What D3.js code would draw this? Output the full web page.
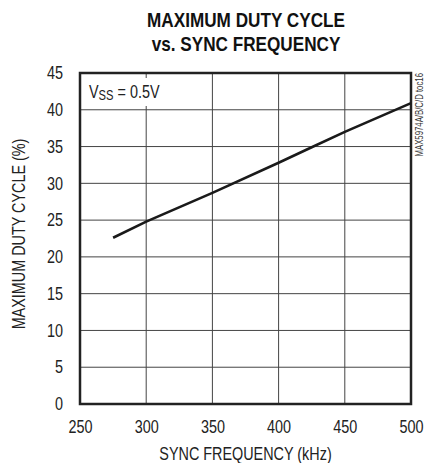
<!DOCTYPE html>
<html><head><meta charset="utf-8">
<script src="https://cdn.jsdelivr.net/npm/d3@7"></script>
<style>body{margin:0;background:#fff}svg{display:block}</style>
</head><body>
<script>
const freq = [275, 300, 350, 400, 425, 450, 500];
const duty = [22.6, 24.8, 28.7, 32.8, 34.9, 37.0, 40.9];
const xTicks = [250, 300, 350, 400, 450, 500];
const yTicks = [0, 5, 10, 15, 20, 25, 30, 35, 40, 45];

const W = 427, H = 463;
const m = {l: 80, r: 16, t: 73, b: 59};
const SX = 0.8; // horizontal condensing for text
const svg = d3.select("body").append("svg").attr("width", W).attr("height", H);
const x = d3.scaleLinear().domain([250, 500]).range([m.l, W - m.r]);
const y = d3.scaleLinear().domain([0, 45]).range([H - m.b, m.t]);
const font = "'Liberation Sans', Arial, sans-serif";

function ctext(px, py, str, size, opts = {}) {
  const t = svg.append("text")
    .attr("transform", `translate(${px},${py}) ${opts.rot ? `rotate(${opts.rot})` : ""} scale(${opts.sx || SX},1)`)
    .attr("text-anchor", opts.anchor || "middle")
    .attr("font-family", font).attr("font-size", size)
    .attr("fill", opts.fill || "#222");
  if (opts.weight) t.attr("font-weight", opts.weight);
  t.text(str);
  return t;
}

// grid
const g = svg.append("g");
g.selectAll(".vx").data(xTicks.slice(1, -1)).join("line")
  .attr("x1", d => x(d)).attr("x2", d => x(d)).attr("y1", y(45)).attr("y2", y(0))
  .attr("stroke", "#444").attr("stroke-width", 1);
g.selectAll(".hy").data(yTicks.slice(1, -1)).join("line")
  .attr("y1", d => y(d)).attr("y2", d => y(d)).attr("x1", x(250)).attr("x2", x(500))
  .attr("stroke", "#444").attr("stroke-width", 1);

// axes (labels only)
const xa = svg.append("g").attr("transform", `translate(0,${y(0)})`)
  .call(d3.axisBottom(x).tickValues(xTicks).tickSize(0).tickPadding(16));
xa.select(".domain").remove();
xa.selectAll("text").attr("font-family", font).attr("font-size", 18).attr("fill", "#222")
  .attr("transform", `scale(${SX},1)`);
const ya = svg.append("g").attr("transform", `translate(${x(250)},0)`)
  .call(d3.axisLeft(y).tickValues(yTicks).tickSize(0).tickPadding(17));
ya.select(".domain").remove();
ya.selectAll("text").attr("font-family", font).attr("font-size", 18).attr("fill", "#222")
  .attr("x", -17 / SX).attr("transform", `scale(${SX},1)`);

// annotation background
svg.append("rect").attr("x", 85).attr("y", 78).attr("width", 80).attr("height", 28).attr("fill", "#fff");

// frame
svg.append("rect").attr("x", x(250)).attr("y", y(45))
  .attr("width", x(500) - x(250)).attr("height", y(0) - y(45))
  .attr("fill", "none").attr("stroke", "#222").attr("stroke-width", 2.5);

// line
svg.append("path").datum(freq.map((f, i) => [f, duty[i]]))
  .attr("d", d3.line().x(d => x(d[0])).y(d => y(d[1])))
  .attr("fill", "none").attr("stroke", "#1a1a1a").attr("stroke-width", 2.6);

// titles
ctext(246, 27, "MAXIMUM DUTY CYCLE", 19.5, {weight: "bold", fill: "#111", sx: 0.88});
ctext(246, 51, "vs. SYNC FREQUENCY", 19.5, {weight: "bold", fill: "#111", sx: 0.88});

ctext((x(250) + x(500)) / 2, 460, "SYNC FREQUENCY (kHz)", 18);
ctext(25, 234, "MAXIMUM DUTY CYCLE (%)", 18, {rot: -90});

// annotation
const ann = svg.append("text").attr("transform", `translate(89,98) scale(${SX},1)`)
  .attr("font-family", font).attr("font-size", 18).attr("fill", "#222");
ann.append("tspan").text("V");
ann.append("tspan").attr("font-size", 14).attr("dy", 2).text("SS");
ann.append("tspan").attr("dy", -2).text(" = 0.5V");

ctext(423, y(45), "MAX5974A/B/C/D toc16", 10, {rot: -90, anchor: "end", fill: "#333", sx: 0.78});
</script>
</body></html>
